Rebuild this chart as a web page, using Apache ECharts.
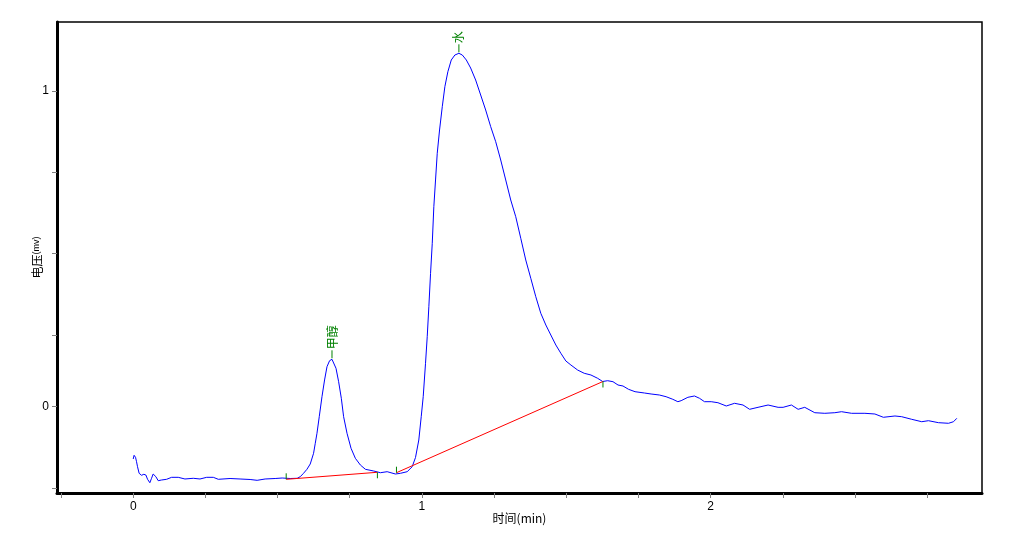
<!DOCTYPE html>
<html><head><meta charset="utf-8">
<script src="https://cdn.jsdelivr.net/npm/echarts@6/dist/echarts.min.js"></script>
<style>html,body{margin:0;padding:0;background:#fff}#c{width:1012px;height:548px}</style>
</head><body><div id="c"></div>
<script>
// Chromatogram: time (min) vs voltage (mV)
const timeMin = [0.000,0.003,0.008,0.0115,0.0149,0.0205,0.0288,0.0368,0.0438,0.0497,0.0576,0.0635,0.0691,0.0726,0.0785,0.0865,0.0983,0.1156,0.1330,0.1559,0.1792,0.2080,0.2313,0.2545,0.2774,0.2948,0.3354,0.3701,0.4049,0.4292,0.4569,0.4917,0.5160,0.5438,0.5681,0.5785,0.5899,0.6017,0.6132,0.6247,0.6306,0.6365,0.6444,0.6538,0.6628,0.6712,0.6802,0.6885,0.6941,0.7024,0.7115,0.7208,0.7288,0.7406,0.7545,0.7694,0.7868,0.8042,0.8330,0.8563,0.8795,0.9083,0.9257,0.9490,0.9663,0.9778,0.9892,0.9976,1.0045,1.0125,1.0184,1.0240,1.0299,1.0358,1.0413,1.0472,1.0531,1.0611,1.0705,1.0795,1.0899,1.1017,1.1142,1.1281,1.1399,1.1538,1.1688,1.1861,1.2035,1.2208,1.2382,1.2556,1.2729,1.2903,1.3076,1.3250,1.3424,1.3597,1.3771,1.3944,1.4118,1.4292,1.4465,1.4639,1.4813,1.4986,1.5160,1.5392,1.5622,1.5854,1.6087,1.6260,1.6434,1.6618,1.6792,1.6965,1.7156,1.7382,1.7705,1.7938,1.8226,1.8458,1.8691,1.8865,1.8979,1.9212,1.9441,1.9615,1.9788,2.0021,2.0253,2.0542,2.0830,2.1122,2.1351,2.1642,2.1990,2.2337,2.2510,2.2799,2.3031,2.3260,2.3608,2.3955,2.4302,2.4535,2.4882,2.5344,2.5691,2.5983,2.6385,2.6618,2.6965,2.7313,2.7545,2.7892,2.8240,2.8413,2.8528];
const voltage = [-0.1667,-0.1549,-0.1613,-0.1752,-0.1911,-0.2120,-0.2183,-0.2151,-0.2174,-0.2310,-0.2418,-0.2278,-0.2142,-0.2120,-0.2228,-0.2354,-0.2332,-0.2310,-0.2247,-0.2247,-0.2300,-0.2278,-0.2300,-0.2247,-0.2247,-0.2310,-0.2285,-0.2300,-0.2316,-0.2342,-0.2300,-0.2285,-0.2269,-0.2285,-0.2278,-0.2228,-0.2120,-0.1993,-0.1825,-0.1486,-0.1169,-0.0852,-0.0326,0.0307,0.0837,0.1258,0.1448,0.1492,0.1448,0.1207,0.0783,0.0257,-0.0326,-0.0852,-0.1328,-0.1644,-0.1857,-0.1993,-0.2047,-0.2101,-0.2069,-0.2142,-0.2120,-0.2069,-0.1911,-0.1619,-0.1065,-0.0326,0.0307,0.1366,0.2208,0.3159,0.4217,0.5168,0.6328,0.7174,0.8020,0.8758,0.9496,1.0130,1.0605,1.0976,1.1134,1.1188,1.1134,1.0976,1.0722,1.0342,0.9867,0.9392,0.8863,0.8387,0.7807,0.7174,0.6540,0.6011,0.5326,0.4639,0.4059,0.3476,0.2950,0.2579,0.2262,0.1945,0.1683,0.1439,0.1312,0.1153,0.1049,0.0995,0.0890,0.0789,0.0814,0.0783,0.0678,0.0646,0.0542,0.0466,0.0425,0.0393,0.0361,0.0307,0.0225,0.0149,0.0181,0.0288,0.0330,0.0257,0.0149,0.0149,0.0117,0.0013,0.0098,0.0044,-0.0092,-0.0029,0.0044,-0.0029,-0.0029,0.0044,-0.0092,-0.0029,-0.0200,-0.0219,-0.0200,-0.0168,-0.0219,-0.0219,-0.0241,-0.0345,-0.0304,-0.0326,-0.0409,-0.0485,-0.0453,-0.0516,-0.0535,-0.0485,-0.0377];

const peakNames = ['甲醇', '水'];
const peakTimes = [0.6885, 1.1281];
const peakHeights = [0.1492, 1.1188];

const baseStartT = [0.5299, 0.9118];
const baseStartV = [-0.2310, -0.2101];
const baseEndT = [0.8458, 1.6271];
const baseEndV = [-0.2088, 0.0789];

const xTicks = [-0.25, 0, 0.25, 0.5, 0.75, 1, 1.25, 1.5, 1.75, 2, 2.25, 2.5, 2.75];
const xLabels = [0, 1, 2];
const yTicks = [-0.2595, 0, 0.2259, 0.4842, 0.7418, 1];
const yLabels = [0, 1];

const curve = timeMin.map((t, i) => [t, voltage[i]]);
const baselineSeries = baseStartT.map((t, i) => ({
  type: 'line', silent: true, symbol: 'none', animation: false, z: 3,
  lineStyle: { color: '#ff0000', width: 1 },
  data: [[t, baseStartV[i]], [baseEndT[i], baseEndV[i]]]
}));
const events = [];
baseStartT.forEach((t, i) => events.push([t, baseStartV[i], 1]));
baseEndT.forEach((t, i) => events.push([t, baseEndV[i], -1]));
const peaks = peakTimes.map((t, i) => [t, peakHeights[i], i]);

const chart = echarts.init(document.getElementById('c'), null, { renderer: 'canvas' });
chart.setOption({
  backgroundColor: '#ffffff',
  animation: false,
  grid: { left: 57, right: 30, top: 22, bottom: 55, show: true, borderColor: '#000', borderWidth: 1.5, backgroundColor: '#fff' },
  xAxis: {
    type: 'value', min: -0.264, max: 2.94,
    name: '时间(min)', nameLocation: 'middle', nameGap: 19, nameMoveOverlap: false,
    nameTextStyle: { fontFamily: 'Noto Sans CJK SC', fontSize: 12, color: '#000' },
    axisLine: { show: true, onZero: false, lineStyle: { color: '#000', width: 3 } },
    axisTick: { show: true, length: 5, customValues: xTicks, lineStyle: { color: '#808080' } },
    axisLabel: { customValues: xLabels, margin: 8, color: '#000', fontSize: 12, fontFamily: 'Liberation Sans' },
    splitLine: { show: false }
  },
  yAxis: {
    type: 'value', min: -0.2744, max: 1.218,
    name: '电压{s|(mv)}', nameLocation: 'middle', nameGap: 14, nameRotate: 90, nameMoveOverlap: false,
    nameTextStyle: { fontFamily: 'Noto Sans CJK SC', fontSize: 12, color: '#000',
      rich: { s: { fontFamily: 'Liberation Sans', fontSize: 9, color: '#000' } } },
    axisLine: { show: true, onZero: false, lineStyle: { color: '#000', width: 3 } },
    axisTick: { show: true, length: 5, customValues: yTicks, lineStyle: { color: '#808080' } },
    axisLabel: { customValues: yLabels, margin: 8, color: '#000', fontSize: 12, fontFamily: 'Liberation Sans' },
    splitLine: { show: false }
  },
  series: [
    {
      type: 'line', data: curve, symbol: 'none', silent: true, z: 2,
      lineStyle: { color: '#0000ff', width: 1 }
    },
    ...baselineSeries,
    {
      type: 'custom', data: events, silent: true, z: 4,
      renderItem: (params, api) => {
        const p = api.coord([api.value(0), api.value(1)]);
        const d = api.value(2);
        return { type: 'line', shape: { x1: p[0], y1: p[1], x2: p[0], y2: p[1] - d * 6 },
          style: { stroke: '#008000', lineWidth: 1 } };
      }
    },
    {
      type: 'custom', data: peaks, silent: true, z: 5, clip: false,
      renderItem: (params, api) => {
        const p = api.coord([api.value(0), api.value(1)]);
        const name = peakNames[api.value(2)];
        return { type: 'group', children: [
          { type: 'line', shape: { x1: p[0], y1: p[1] - 1, x2: p[0], y2: p[1] - 9 }, style: { stroke: '#008000', lineWidth: 1 } },
          { type: 'text', x: p[0], y: p[1] - 10, rotation: Math.PI / 2,
            style: { text: name, fill: '#008000', font: '12px "Noto Sans CJK SC"', align: 'left', verticalAlign: 'middle' } }
        ] };
      }
    }
  ]
});
</script>
</body></html>
